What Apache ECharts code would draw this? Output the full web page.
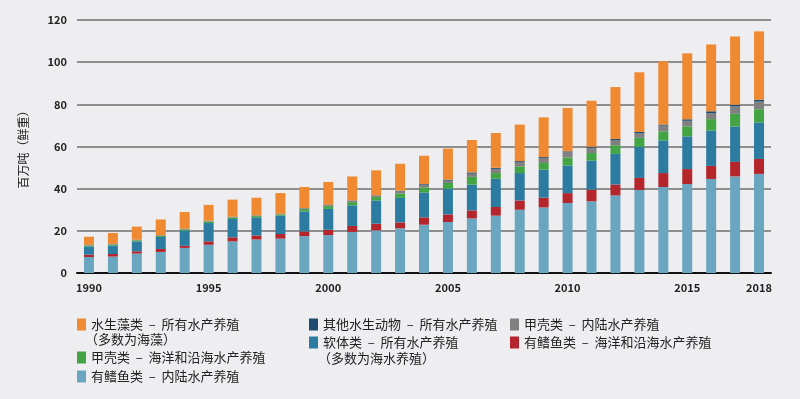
<!DOCTYPE html>
<html>
<head>
<meta charset="utf-8">
<script src="https://cdn.jsdelivr.net/npm/echarts@6/dist/echarts.min.js"></script>
<style>
html, body { margin: 0; padding: 0; background: #eeeef1; }
#main { width: 800px; height: 399px; }
</style>
</head>
<body>
<div id="main"></div>
<script>
// 年份
let years = ['1990','1991','1992','1993','1994','1995','1996','1997','1998','1999',
    '2000','2001','2002','2003','2004','2005','2006','2007','2008','2009',
    '2010','2011','2012','2013','2014','2015','2016','2017','2018'];
let shownYears = ['1990','1995','2000','2005','2010','2015','2018'];
let yTicks = [0, 20, 40, 60, 80, 100, 120];

// 百万吨（鲜重），自下而上堆叠
let finfishInland = [7.6,7.8,9.2,10.0,11.9,13.4,15.0,15.9,16.3,17.5,
    18.0,19.5,20.2,21.2,22.9,24.2,25.9,27.2,30.0,31.1,
    33.2,34.0,36.8,39.4,40.8,42.2,44.6,45.8,47.0];
let finfishMarine = [1.1,1.2,1.1,1.4,1.0,1.6,1.9,1.9,2.2,2.2,
    2.5,2.8,3.2,2.8,3.5,3.6,3.8,4.1,4.4,4.6,
    4.7,5.5,5.2,5.7,6.6,7.1,6.2,6.9,7.1];
let molluscs = [3.9,4.0,4.7,5.7,7.2,8.7,8.7,8.6,8.7,9.5,
    9.9,9.8,11.0,11.6,11.8,12.2,12.2,13.4,13.0,13.3,
    13.1,13.8,14.5,14.7,15.5,15.5,16.8,16.8,17.3];
let crustMarine = [0.5,0.5,0.5,0.5,0.6,0.7,0.7,0.6,0.6,1.1,
    1.3,1.5,1.6,2.1,2.4,2.7,3.7,2.7,3.2,3.2,
    3.8,3.6,4.1,4.3,4.3,4.7,5.4,6.0,6.3];
let crustInland = [0.2,0.2,0.2,0.2,0.2,0.3,0.3,0.2,0.2,0.4,
    0.5,0.6,0.6,1.0,1.3,1.1,1.5,2.0,2.1,2.4,
    2.4,2.5,2.5,2.2,2.7,2.7,2.8,3.5,3.6];
let otherAnimals = [0.1,0.1,0.1,0.1,0.1,0.1,0.1,0.1,0.1,0.1,
    0.2,0.2,0.2,0.3,0.3,0.5,0.6,0.5,0.4,0.4,
    0.5,0.5,0.5,0.6,0.5,0.7,0.9,0.8,0.9];
let algae = [3.8,5.2,6.2,7.5,7.9,7.5,8.1,8.4,9.8,10.0,
    10.8,11.4,11.9,12.8,13.4,14.7,15.4,16.5,17.3,18.8,
    20.6,21.8,24.6,28.3,30.0,31.3,31.7,32.4,32.4];

let names = {
    algae: '水生藻类  –  所有水产养殖',
    other: '其他水生动物  –  所有水产养殖',
    crustIn: '甲壳类  –  内陆水产养殖',
    crustMar: '甲壳类  –  海洋和沿海水产养殖',
    mollusc: '软体类  –  所有水产养殖',
    finMar: '有鳍鱼类  –  海洋和沿海水产养殖',
    finIn: '有鳍鱼类  –  内陆水产养殖'
};
let colors = {
    algae: '#ef8a32', other: '#1d4b70', crustIn: '#808080', crustMar: '#43a443',
    mollusc: '#2c7ba1', finMar: '#b5262c', finIn: '#6ba6c0'
};

let font = '"Noto Sans CJK SC", "Noto Sans", sans-serif';

function bar(key, data) {
    return {
        name: names[key],
        type: 'bar',
        stack: 'total',
        barWidth: 10,
        itemStyle: { color: colors[key] },
        data: data
    };
}

function legendItem(key, left, top) {
    return {
        data: [names[key]],
        left: left,
        top: top,
        padding: 0,
        itemWidth: 9,
        itemHeight: 12,
        itemGap: 0,
        icon: 'rect',
        selectedMode: false,
        textStyle: { color: '#222', fontSize: 13, fontFamily: font }
    };
}

let chart = echarts.init(document.getElementById('main'));
let option = {
    backgroundColor: '#eeeef1',
    animation: false,
    grid: { left: 77, right: 29, top: 20, bottom: 126 },
    xAxis: {
        type: 'category',
        data: years,
        axisTick: { show: false },
        axisLine: { lineStyle: { color: '#111', width: 2 } },
        axisLabel: {
            interval: (idx, val) => shownYears.includes(val),
            color: '#222', fontSize: 11, fontWeight: 'bold', fontFamily: font, margin: 9
        }
    },
    yAxis: {
        type: 'value',
        min: yTicks[0],
        max: yTicks[yTicks.length - 1],
        interval: 20,
        name: '百万吨（鲜重）',
        nameLocation: 'middle',
        nameRotate: 90,
        nameGap: 48,
        nameTextStyle: { color: '#222', fontSize: 12, fontFamily: font },
        axisLabel: { color: '#222', fontSize: 11, fontWeight: 'bold', fontFamily: font, margin: 10 },
        splitLine: { lineStyle: { color: '#6e6e6e', width: 1.5 } }
    },
    legend: [
        legendItem('algae', 77, 318),
        legendItem('crustMar', 77, 351),
        legendItem('finIn', 77, 370),
        legendItem('other', 309, 318),
        legendItem('mollusc', 309, 336),
        legendItem('crustIn', 510, 318),
        legendItem('finMar', 510, 336)
    ],
    graphic: [
        { type: 'text', left: 85, top: 333, style: { text: '（多数为海藻）', fill: '#222', font: '13px ' + font } },
        { type: 'text', left: 318, top: 352, style: { text: '（多数为海水养殖）', fill: '#222', font: '13px ' + font } }
    ],
    series: [
        bar('finIn', finfishInland),
        bar('finMar', finfishMarine),
        bar('mollusc', molluscs),
        bar('crustMar', crustMarine),
        bar('crustIn', crustInland),
        bar('other', otherAnimals),
        bar('algae', algae)
    ]
};
chart.setOption(option);
</script>
</body>
</html>
